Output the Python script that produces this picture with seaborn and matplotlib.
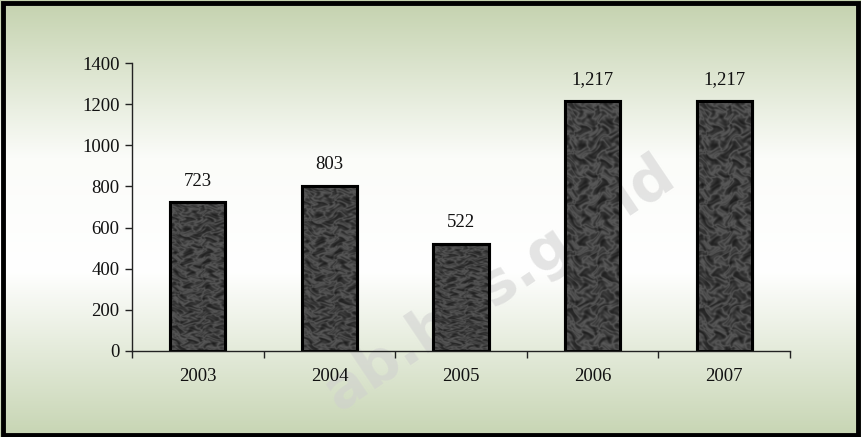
import numpy as np
import pandas as pd
import matplotlib
matplotlib.use("Agg")
import matplotlib.pyplot as plt
from matplotlib.colors import LinearSegmentedColormap
from matplotlib.patches import Rectangle
import seaborn as sns

years = ["2003", "2004", "2005", "2006", "2007"]
values = [723, 803, 522, 1217, 1217]
yticks = [0, 200, 400, 600, 800, 1000, 1200, 1400]

sns.set_theme(style="white")
plt.rcParams["font.family"] = ["Liberation Serif", "DejaVu Serif"]

fig = plt.figure(figsize=(8.61, 4.37), dpi=100)

# background gradient
bg = fig.add_axes([0, 0, 1, 1], zorder=-10)
cmap = LinearSegmentedColormap.from_list(
    "bg", [(0.0, "#c4d2ae"), (0.36, "#fbfcf9"), (0.62, "#ffffff"), (1.0, "#c7d5b3")])
grad = np.linspace(0, 1, 256).reshape(-1, 1)
bg.imshow(grad, aspect="auto", cmap=cmap, extent=[0, 1, 0, 1], origin="upper")
bg.set_xlim(0, 1); bg.set_ylim(0, 1)
bg.axis("off")
# watermark (behind the chart)
bg.text(0.58, 0.35, "ab.bps.go.id", fontsize=42, fontweight="bold",
        family="DejaVu Sans", color="#cfcfcf", alpha=0.55, rotation=34,
        ha="center", va="center", transform=bg.transAxes)

ax = fig.add_axes([0.1533, 0.1968, 0.7642, 0.659])
ax.patch.set_alpha(0)
df = pd.DataFrame({"year": years, "value": values})
sns.barplot(data=df, x="year", y="value", ax=ax, color="#323232",
            edgecolor="black", linewidth=2.2, width=0.42, saturation=1)

# marble-like texture (deterministic pattern) clipped to each bar
yy, xx = np.mgrid[0:400, 0:80] / 10.0
wx = xx + 0.9 * np.sin(yy * 0.73 + 1.3) + 0.5 * np.sin(yy * 2.31)
wy = yy + 0.8 * np.cos(xx * 0.97 + 0.4) + 0.4 * np.sin(xx * 2.67)
tex = (np.sin(wx * 1.9 + wy * 0.6) + np.sin(wy * 1.45 - wx * 0.8)
       + 0.7 * np.sin(wx * 3.3 - wy * 2.1 + 0.7) + 0.6 * np.cos(wx * 2.2 + wy * 3.1)
       + 0.45 * np.sin(wx * 5.3 + wy * 4.7) + 0.4 * np.cos(wy * 6.1 - wx * 3.9))
tex = np.abs(tex)
tex = (tex - tex.min()) / (tex.max() - tex.min())
tcmap = LinearSegmentedColormap.from_list("tex", ["#5a5a5a", "#383838", "#252525", "#1a1a1a"])
for bar in ax.containers[0]:
    x0, y0 = bar.get_x(), bar.get_y()
    w, h = bar.get_width(), bar.get_height()
    im = ax.imshow(tex, cmap=tcmap, extent=[x0, x0 + w, y0, y0 + h], aspect="auto",
                   zorder=bar.get_zorder() + 0.1, interpolation="bilinear")
    im.set_clip_path(bar)
    ax.add_patch(Rectangle((x0, y0), w, h, fill=False, edgecolor="black",
                           linewidth=2.2, zorder=bar.get_zorder() + 0.2))

labels = [f"{v:,}" for v in values]
ax.bar_label(ax.containers[0], labels=labels, padding=9, fontsize=13.5, color="#111111")

ax.set_xlim(-0.5, 4.5)
ax.set_ylim(0, 1400)
ax.set_yticks(yticks)
ax.set_yticklabels([str(t) for t in yticks], fontsize=13.5, color="#111111")
ax.set_xlabel(""); ax.set_ylabel("")
ax.tick_params(axis="x", which="major", length=0, pad=12, labelsize=13.5, labelcolor="#111111")
ax.set_xticks(np.arange(-0.5, 5.0, 1.0), minor=True)
ax.tick_params(axis="x", which="minor", length=5, width=1, color="#222222", direction="out", bottom=True)
ax.tick_params(axis="y", length=5, width=1, color="#222222", direction="out", left=True, pad=4)
for s in ["top", "right"]:
    ax.spines[s].set_visible(False)
for s in ["left", "bottom"]:
    ax.spines[s].set_color("#222222")
    ax.spines[s].set_linewidth(1)

# border
fig.patches.append(Rectangle((0.004, 0.005), 0.992, 0.988, transform=fig.transFigure,
                             fill=False, edgecolor="black", linewidth=3.5, zorder=20))

fig.savefig("out.png", dpi=100)
